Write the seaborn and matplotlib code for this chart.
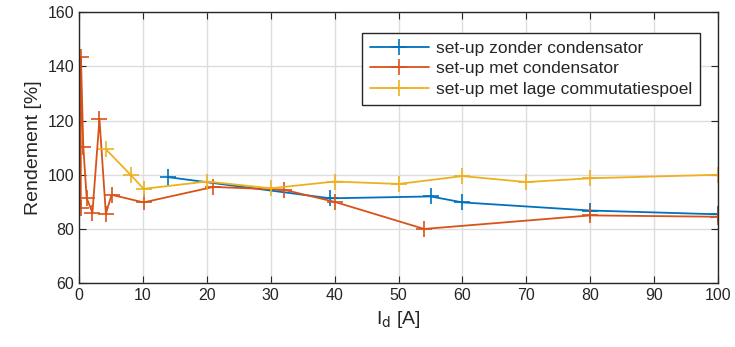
import matplotlib
matplotlib.use("Agg")
import matplotlib.pyplot as plt
import seaborn as sns

# data
x_zonder = [14, 39.3, 55, 60, 80, 100]
y_zonder = [99.1, 91.3, 92.0, 89.8, 86.8, 85.4]

x_met = [0.27, 0.3, 0.67, 1.2, 2.1, 3.2, 4.2, 5.1, 10.1, 21, 32, 40, 54, 80, 100]
y_met = [87.7, 143.5, 110.4, 91.4, 86.0, 120.6, 85.6, 92.6, 89.8, 95.5, 94.5, 90.0, 80.0, 85.0, 84.5]

x_lage = [4.2, 8.1, 10.1, 20, 30, 40, 50, 60, 70, 80, 100]
y_lage = [109.4, 99.9, 94.8, 97.5, 95.0, 97.5, 96.6, 99.5, 97.3, 98.7, 100.0]

labels = ["set-up zonder condensator", "set-up met condensator", "set-up met lage commutatiespoel"]
colors = ["#0072BD", "#D95319", "#EDB120"]

sns.set_style("whitegrid")
plt.rcParams["font.family"] = ["Liberation Sans", "DejaVu Sans"]

fig = plt.figure(figsize=(7.35, 3.47), dpi=100)
ax = fig.add_axes([0.1075, 0.184, 0.8695, 0.781])

series = [(x_zonder, y_zonder), (x_met, y_met), (x_lage, y_lage)]
for (xs, ys), lab, col in zip(series, labels, colors):
    sns.lineplot(x=xs, y=ys, ax=ax, sort=False, color=col, label=lab,
                 marker="+", markersize=11, mew=1.2, mec=col, mfc=col,
                 linewidth=1.3)

ax.set_xlim(0, 100)
ax.set_ylim(60, 160)
ax.set_xticks(range(0, 101, 10))
ax.set_yticks(range(60, 161, 20))
ax.grid(True, color="#dddddd", linewidth=1.0)
for s in ax.spines.values():
    s.set_visible(True)
    s.set_color("#262626")
    s.set_linewidth(1.0)
ax.tick_params(direction="in", length=5, color="#262626", labelsize=11.5,
               labelcolor="#262626", top=True, right=True, left=True, bottom=True)

ax.set_xlabel("I$_\\mathrm{d}$ [A]", fontsize=14, color="#262626")
ax.set_ylabel("Rendement [%]", fontsize=14, color="#262626")

leg = ax.legend(loc="upper right", bbox_to_anchor=(0.985, 0.955), fontsize=12.5,
                frameon=True, fancybox=False, handlelength=3.4, borderpad=0.45,
                labelspacing=0.3, handletextpad=0.4)
leg.get_frame().set_edgecolor("#262626")
leg.get_frame().set_linewidth(1.0)
leg.get_frame().set_alpha(1)

fig.savefig("out.png", dpi=100)
